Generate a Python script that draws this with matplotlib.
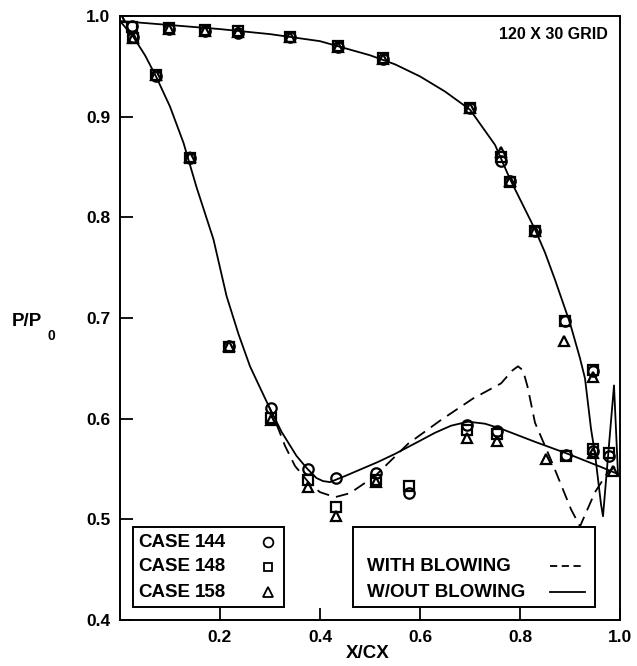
import matplotlib
matplotlib.use("Agg")
import matplotlib.pyplot as plt
from matplotlib.patches import Rectangle

plt.rcParams["font.family"] = ["Liberation Sans", "DejaVu Sans"]
plt.rcParams["font.weight"] = "bold"

# measured points, case 144 (circles)
x_144 = [0.023, 0.097, 0.17, 0.236, 0.34, 0.436, 0.526, 0.70, 0.762, 0.78, 0.83, 0.89, 0.946,
         0.025, 0.072, 0.14, 0.218, 0.302, 0.376, 0.432, 0.512, 0.578, 0.694, 0.754, 0.892, 0.946, 0.978]
y_144 = [0.990, 0.987, 0.985, 0.983, 0.979, 0.969, 0.957, 0.909, 0.856, 0.836, 0.786, 0.697, 0.647,
         0.979, 0.940, 0.859, 0.672, 0.611, 0.550, 0.541, 0.546, 0.526, 0.594, 0.588, 0.564, 0.568, 0.563]

# case 148 (squares)
x_148 = [0.023, 0.097, 0.17, 0.236, 0.34, 0.436, 0.526, 0.70, 0.762, 0.78, 0.83, 0.89, 0.946,
         0.025, 0.072, 0.14, 0.218, 0.302, 0.376, 0.432, 0.512, 0.578, 0.694, 0.754, 0.892, 0.946, 0.978]
y_148 = [0.989, 0.988, 0.986, 0.985, 0.979, 0.970, 0.958, 0.909, 0.860, 0.835, 0.786, 0.697, 0.648,
         0.978, 0.941, 0.859, 0.671, 0.601, 0.539, 0.512, 0.539, 0.533, 0.589, 0.585, 0.563, 0.570, 0.566]

# case 158 (triangles)
x_158 = [0.0, 0.097, 0.17, 0.236, 0.34, 0.436, 0.526, 0.70, 0.762, 0.78, 0.83, 0.888, 0.946,
         0.025, 0.072, 0.14, 0.218, 0.302, 0.376, 0.432, 0.512, 0.694, 0.754, 0.852, 0.946, 0.986]
y_158 = [0.999, 0.987, 0.985, 0.984, 0.979, 0.969, 0.957, 0.909, 0.865, 0.836, 0.786, 0.677, 0.641,
         0.978, 0.941, 0.860, 0.672, 0.599, 0.532, 0.503, 0.537, 0.581, 0.578, 0.560, 0.566, 0.548]

# computed, without blowing: pressure side incl. trailing edge spike
x_pres = [0.0, 0.1, 0.2, 0.3, 0.4, 0.45, 0.5, 0.55, 0.6, 0.65, 0.7, 0.75, 0.78, 0.8, 0.83,
          0.85, 0.87, 0.9, 0.92, 0.93, 0.942, 0.95, 0.956, 0.962, 0.966, 0.988, 0.996]
y_pres = [0.995, 0.991, 0.987, 0.982, 0.975, 0.968, 0.961, 0.952, 0.940, 0.925, 0.907, 0.872,
          0.838, 0.818, 0.788, 0.765, 0.738, 0.695, 0.660, 0.640, 0.590, 0.565, 0.540, 0.515,
          0.503, 0.633, 0.545]

# computed, without blowing: suction side
x_suc = [0.0, 0.027, 0.05, 0.072, 0.1, 0.127, 0.153, 0.187, 0.213, 0.237, 0.26, 0.277, 0.297,
         0.323, 0.353, 0.375, 0.393, 0.406, 0.42, 0.45, 0.516, 0.55, 0.596, 0.63, 0.662, 0.696,
         0.73, 0.762, 0.83, 0.896, 0.962, 0.996]
y_suc = [0.995, 0.979, 0.961, 0.940, 0.910, 0.874, 0.830, 0.778, 0.722, 0.684, 0.652, 0.634,
         0.613, 0.587, 0.563, 0.550, 0.541, 0.538, 0.537, 0.543, 0.557, 0.565, 0.577, 0.586,
         0.593, 0.597, 0.595, 0.590, 0.577, 0.565, 0.552, 0.545]

# computed, with blowing (differs from the solid line past x = 0.3)
x_blow = [0.297, 0.315, 0.33, 0.35, 0.38, 0.40, 0.43, 0.46, 0.51, 0.576, 0.64, 0.706, 0.762,
          0.785, 0.796, 0.806, 0.815, 0.83, 0.862, 0.902, 0.92, 0.95, 0.976, 0.99]
y_blow = [0.613, 0.592, 0.573, 0.553, 0.535, 0.527, 0.522, 0.526, 0.543, 0.575, 0.598, 0.620,
          0.635, 0.648, 0.652, 0.648, 0.632, 0.596, 0.559, 0.510, 0.493, 0.527, 0.547, 0.552]

case_names = ["144", "148", "158"]
case_markers = ["o", "s", "^"]

fig = plt.figure(figsize=(6.37, 6.66), dpi=100)
ax = fig.add_axes([120 / 637, 46 / 666, 500 / 637, 604 / 666])

ax.plot(x_pres, y_pres, color="black", lw=1.3)
ax.plot(x_suc, y_suc, color="black", lw=1.3)
ax.plot(x_blow, y_blow, color="black", lw=1.3, dashes=(7, 4))

mk = dict(ls="none", mfc="none", mec="black", mew=1.6)
ax.plot(x_144, y_144, marker="o", ms=7.5, **mk)
ax.plot(x_148, y_148, marker="s", ms=6.5, **mk)
ax.plot(x_158, y_158, marker="^", ms=7.5, **mk)

ax.set_xlim(0, 1.0)
ax.set_ylim(0.4, 1.0)
ax.set_xticks([0.2, 0.4, 0.6, 0.8, 1.0])
ax.set_xticklabels(["0.2", "0.4", "0.6", "0.8", "1.0"])
ax.set_yticks([0.4, 0.5, 0.6, 0.7, 0.8, 0.9, 1.0])
ax.set_yticklabels(["0.4", "0.5", "0.6", "0.7", "0.8", "0.9", "1.0"])
ax.tick_params(direction="in", length=9, width=1.3, labelsize=12.5, pad=7)
for lab in ax.get_xticklabels() + ax.get_yticklabels():
    lab.set_fontweight("bold")
for sp in ax.spines.values():
    sp.set_linewidth(1.4)

ax.text(0.976, 0.969, "120 X 30 GRID", transform=ax.transAxes, ha="right", va="center",
        fontsize=11.5, fontweight="bold")

# case legend box
ax.add_patch(Rectangle((0.026, 0.0215), 0.302, 0.1325, transform=ax.transAxes,
                       fill=True, fc="white", ec="black", lw=1.4, zorder=5))
for yy, name, m in zip([0.129, 0.088, 0.046], case_names, case_markers):
    ax.text(0.036, yy, "CASE", transform=ax.transAxes, va="center", fontsize=13.5,
            fontweight="bold", zorder=6)
    ax.text(0.15, yy, name, transform=ax.transAxes, va="center", fontsize=13.5,
            fontweight="bold", zorder=6)
    ax.plot([0.296], [yy], marker=m, ms=7 if m != "s" else 6, mfc="none", mec="black",
            mew=1.3, transform=ax.transAxes, zorder=6, clip_on=False)

# line legend box
ax.add_patch(Rectangle((0.466, 0.0215), 0.484, 0.1325, transform=ax.transAxes,
                       fill=True, fc="white", ec="black", lw=1.4, zorder=5))
ax.text(0.494, 0.089, "WITH BLOWING", transform=ax.transAxes, va="center", fontsize=13.5,
        fontweight="bold", zorder=6)
ax.text(0.494, 0.046, "W/OUT BLOWING", transform=ax.transAxes, va="center", fontsize=13.5,
        fontweight="bold", zorder=6)
ax.plot([0.86, 0.93], [0.089, 0.089], color="black", lw=1.3, dashes=(4, 2.5),
        transform=ax.transAxes, zorder=6)
ax.plot([0.86, 0.93], [0.046, 0.046], color="black", lw=1.3, transform=ax.transAxes, zorder=6)

fig.text(12 / 637, 1 - 322 / 666, "P/P", ha="left", va="center", fontsize=13.5,
         fontweight="bold")
fig.text(47 / 637, 1 - 336 / 666, "0", ha="left", va="center", fontsize=10,
         fontweight="bold")
fig.text(368 / 637, 1 - 653 / 666, "X/CX", ha="center", va="center", fontsize=13.5,
         fontweight="bold")

fig.savefig("out.png", dpi=100)
